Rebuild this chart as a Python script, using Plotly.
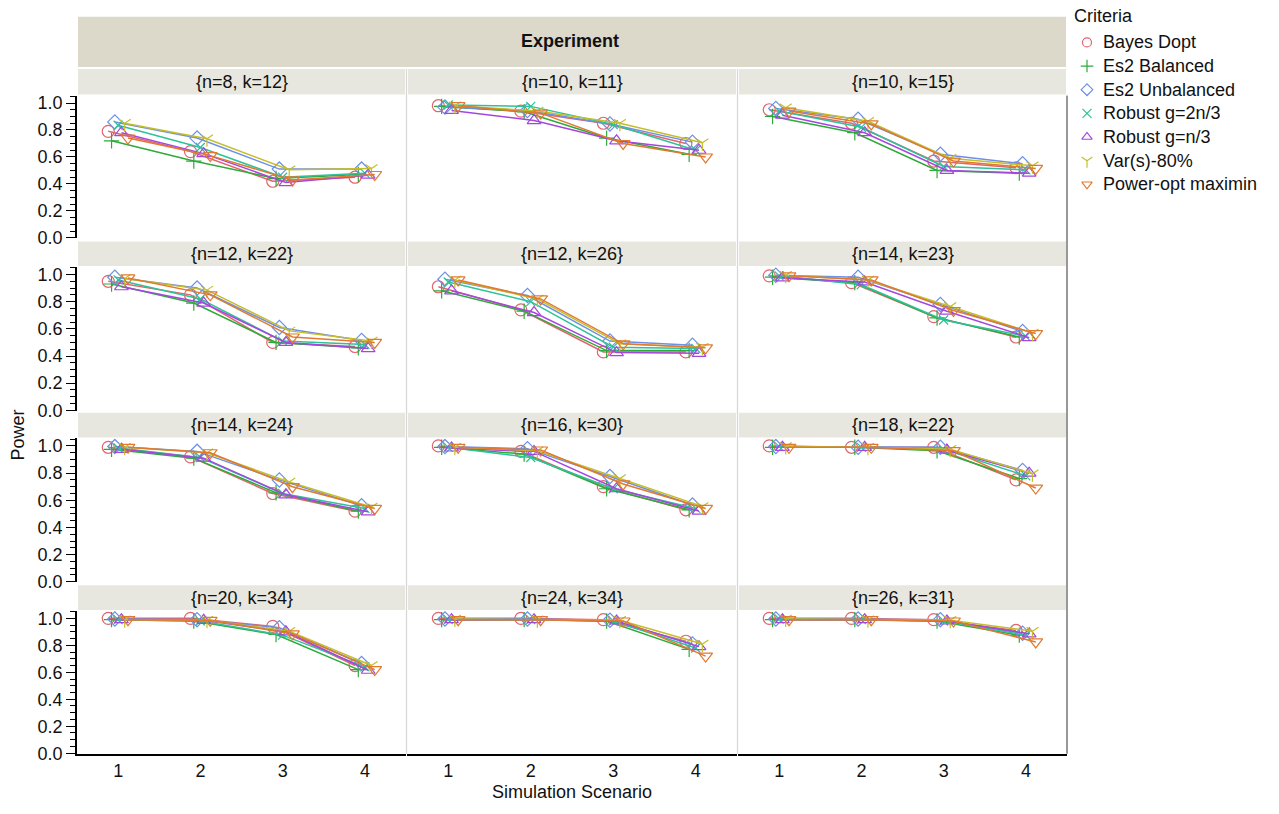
import plotly.graph_objects as go

W, H = 1279, 814

scenarios = [1, 2, 3, 4]
panel_labels = ["{n=8, k=12}", "{n=10, k=11}", "{n=10, k=15}",
                "{n=12, k=22}", "{n=12, k=26}", "{n=14, k=23}",
                "{n=14, k=24}", "{n=16, k=30}", "{n=18, k=22}",
                "{n=20, k=34}", "{n=24, k=34}", "{n=26, k=31}"]
criteria = ["Bayes Dopt", "Es2 Balanced", "Es2 Unbalanced", "Robust g=2n/3",
            "Robust g=n/3", "Var(s)-80%", "Power-opt maximin"]
y_ticks = [0.0, 0.2, 0.4, 0.6, 0.8, 1.0]

bayes_dopt = [
    [0.79, 0.64, 0.42, 0.45], [0.98, 0.94, 0.85, 0.70], [0.95, 0.85, 0.57, 0.52],
    [0.95, 0.85, 0.50, 0.47], [0.91, 0.74, 0.43, 0.43], [0.99, 0.94, 0.69, 0.54],
    [0.99, 0.92, 0.65, 0.52], [1.00, 0.96, 0.70, 0.53], [1.00, 0.99, 0.99, 0.75],
    [1.00, 1.00, 0.94, 0.65], [1.00, 1.00, 0.99, 0.83], [1.00, 1.00, 0.99, 0.91]]
es2_balanced = [
    [0.72, 0.57, 0.44, 0.47], [0.975, 0.935, 0.74, 0.62], [0.90, 0.78, 0.50, 0.48],
    [0.93, 0.79, 0.50, 0.46], [0.88, 0.73, 0.44, 0.44], [0.98, 0.94, 0.68, 0.54],
    [0.975, 0.91, 0.655, 0.52], [0.99, 0.94, 0.685, 0.53], [0.99, 0.99, 0.965, 0.76],
    [0.99, 0.98, 0.88, 0.62], [0.99, 0.99, 0.98, 0.77], [0.99, 0.99, 0.98, 0.875]]
es2_unbalanced = [
    [0.86, 0.74, 0.51, 0.51], [0.97, 0.945, 0.845, 0.71], [0.96, 0.88, 0.62, 0.55],
    [0.98, 0.90, 0.61, 0.515], [0.965, 0.845, 0.51, 0.48], [0.995, 0.98, 0.78, 0.58],
    [0.995, 0.96, 0.75, 0.56], [0.995, 0.98, 0.775, 0.565], [0.995, 0.99, 0.99, 0.82],
    [0.995, 0.99, 0.93, 0.665], [0.995, 0.995, 0.985, 0.81], [0.995, 0.995, 0.99, 0.89]]
robust_2n3 = [
    [0.835, 0.67, 0.45, 0.48], [0.985, 0.975, 0.84, 0.65], [0.94, 0.82, 0.53, 0.505],
    [0.96, 0.82, 0.51, 0.485], [0.945, 0.80, 0.465, 0.455], [0.99, 0.925, 0.665, 0.545],
    [0.985, 0.915, 0.65, 0.54], [0.99, 0.915, 0.685, 0.54], [0.995, 0.99, 0.975, 0.78],
    [0.99, 0.98, 0.875, 0.64], [0.99, 0.99, 0.98, 0.78], [0.995, 0.99, 0.98, 0.875]]
robust_n3 = [
    [0.78, 0.625, 0.41, 0.465], [0.945, 0.87, 0.72, 0.65], [0.91, 0.78, 0.50, 0.48],
    [0.91, 0.79, 0.50, 0.455], [0.88, 0.72, 0.425, 0.42], [0.975, 0.945, 0.73, 0.535],
    [0.975, 0.91, 0.64, 0.515], [0.985, 0.96, 0.685, 0.52], [0.99, 0.99, 0.97, 0.80],
    [0.99, 0.985, 0.90, 0.615], [0.99, 0.99, 0.98, 0.79], [0.99, 0.99, 0.98, 0.885]]
var_s80 = [
    [0.85, 0.735, 0.505, 0.515], [0.98, 0.94, 0.85, 0.705], [0.965, 0.865, 0.59, 0.535],
    [0.97, 0.885, 0.585, 0.51], [0.96, 0.82, 0.49, 0.465], [0.995, 0.96, 0.765, 0.57],
    [0.99, 0.95, 0.735, 0.55], [0.99, 0.965, 0.76, 0.555], [0.995, 0.99, 0.975, 0.795],
    [0.99, 0.985, 0.905, 0.65], [0.995, 0.99, 0.985, 0.81], [0.995, 0.99, 0.985, 0.905]]
power_opt_maximin = [
    [0.74, 0.61, 0.43, 0.47], [0.98, 0.925, 0.70, 0.60], [0.94, 0.845, 0.57, 0.515],
    [0.975, 0.85, 0.54, 0.50], [0.96, 0.82, 0.49, 0.46], [0.99, 0.96, 0.735, 0.565],
    [0.99, 0.95, 0.70, 0.54], [0.99, 0.97, 0.72, 0.54], [0.99, 0.99, 0.965, 0.69],
    [0.99, 0.985, 0.885, 0.62], [0.99, 0.99, 0.98, 0.72], [0.99, 0.99, 0.98, 0.825]]

series = [bayes_dopt, es2_balanced, es2_unbalanced, robust_2n3,
          robust_n3, var_s80, power_opt_maximin]

# styles
colors = ["#E2646E", "#2EAA3A", "#6E8FE6", "#2DC29A", "#A447DE", "#C4BE2A", "#E07A30"]
symbols = ["circle-open", "cross-thin-open", "diamond-open", "x-thin-open",
           "triangle-up-open", "y-down-open", "triangle-down-open"]
sizes = [12, 11, 11, 9, 12, 10, 12]
dodge = [-0.12, -0.08, -0.04, 0.0, 0.04, 0.08, 0.12]
FONT = "Liberation Sans, Arial, sans-serif"
TXT = "#111111"

col_px = [(77, 406), (407, 737), (738, 1067)]
row_plot_px = [(95, 240), (269, 415), (443, 589), (618, 763)]
row_strip_px = [(68, 94), (243, 268), (417, 442), (592, 617)]


def px(x):
    return x / W


def py(y):
    return 1 - y / H


fig = go.Figure()
shapes = []
annotations = []

for p in range(12):
    r, c = divmod(p, 3)
    i = p + 1
    xs = "" if i == 1 else str(i)
    x0, x1 = col_px[c]
    t, b = row_plot_px[r]
    for s, name in enumerate(criteria):
        vals = series[s][p]
        fig.add_trace(go.Scatter(
            x=[sc + dodge[s] for sc in scenarios], y=vals,
            mode="lines+markers", name=name, showlegend=False,
            line=dict(color=colors[s], width=1.5),
            marker=dict(symbol=symbols[s], size=sizes[s], color=colors[s],
                        line=dict(color=colors[s], width=1.2)),
            xaxis="x" + xs, yaxis="y" + xs, hoverinfo="skip"))
    xa = dict(domain=[px(x0), px(x1)], range=[0.5, 4.5], anchor="y" + xs,
              showgrid=False, zeroline=False, tickvals=scenarios,
              ticktext=[str(v) for v in scenarios],
              showticklabels=(r == 3), ticks="",
              tickfont=dict(family=FONT, size=18, color=TXT),
              showline=(r == 3), linecolor="black", linewidth=1.5)
    ya = dict(domain=[py(b), py(t)], range=[-0.004, 1.055], anchor="x" + xs,
              showgrid=False, zeroline=False, tickvals=y_ticks,
              ticktext=["%.1f" % v for v in y_ticks],
              showticklabels=(c == 0),
              ticks="outside" if c == 0 else "", ticklen=9, tickwidth=1,
              tickcolor="black",
              tickfont=dict(family=FONT, size=18, color=TXT),
              showline=(c == 0), linecolor="black", linewidth=1.5)
    if c == 0:
        ya["minor"] = dict(dtick=0.05, ticklen=5, ticks="outside",
                           tickcolor="black", tickwidth=1)
    fig.layout["xaxis" + xs] = xa
    fig.layout["yaxis" + xs] = ya

    # strip
    st, sb = row_strip_px[r]
    shapes.append(dict(type="rect", xref="paper", yref="paper",
                       x0=px(x0 + 1), x1=px(x1 - 1), y0=py(sb), y1=py(st),
                       fillcolor="#E8E7DF", line=dict(width=0), layer="above"))
    annotations.append(dict(text=panel_labels[p], xref="paper", yref="paper",
                            x=px((x0 + x1) / 2), y=py((st + sb) / 2),
                            showarrow=False, xanchor="center", yanchor="middle",
                            font=dict(family=FONT, size=18, color=TXT)))

# column separators and right border
for xsep in (406.5, 737.5):
    shapes.append(dict(type="line", xref="paper", yref="paper",
                       x0=px(xsep), x1=px(xsep), y0=py(763), y1=py(68),
                       line=dict(color="#D6D6D6", width=1.2), layer="below"))
shapes.append(dict(type="line", xref="paper", yref="paper",
                   x0=px(1067), x1=px(1067), y0=py(763), y1=py(95),
                   line=dict(color="#333", width=1), layer="below"))

# header
shapes.append(dict(type="rect", xref="paper", yref="paper",
                   x0=px(78), x1=px(1066), y0=py(66), y1=py(15),
                   fillcolor="#DCD9CA", line=dict(width=0), layer="below"))
annotations.append(dict(text="<b>Experiment</b>", xref="paper", yref="paper",
                        x=px(570), y=py(40), showarrow=False,
                        xanchor="center", yanchor="middle",
                        font=dict(family=FONT, size=18, color=TXT)))
annotations.append(dict(text="Power", xref="paper", yref="paper",
                        x=px(18), y=py(440), showarrow=False, textangle=-90,
                        xanchor="center", yanchor="middle",
                        font=dict(family=FONT, size=18, color=TXT)))
annotations.append(dict(text="Simulation Scenario", xref="paper", yref="paper",
                        x=px(572), y=py(802), showarrow=False,
                        xanchor="center", yanchor="middle",
                        font=dict(family=FONT, size=18, color=TXT)))

# custom legend (hidden helper axis in pixel units)
leg_rows = list(range(len(criteria)))
fig.add_trace(go.Scatter(
    x=[1087] * len(criteria), y=[41 + 24 * k for k in leg_rows],
    mode="markers", showlegend=False, hoverinfo="skip",
    marker=dict(symbol=symbols, size=9, color=colors,
                line=dict(color=colors, width=1.2)),
    xaxis="x13", yaxis="y13"))
fig.layout["xaxis13"] = dict(domain=[px(1070), 1], range=[1070, W],
                             visible=False, anchor="y13", fixedrange=True)
fig.layout["yaxis13"] = dict(domain=[py(200), 1], range=[200, 0],
                             visible=False, anchor="x13", fixedrange=True)
annotations.append(dict(text="Criteria", xref="paper", yref="paper",
                        x=px(1072), y=py(14), showarrow=False,
                        xanchor="left", yanchor="middle",
                        font=dict(family=FONT, size=18, color=TXT)))
for k, name in enumerate(criteria):
    annotations.append(dict(text=name, xref="paper", yref="paper",
                            x=px(1101), y=py(41 + 24 * k), showarrow=False,
                            xanchor="left", yanchor="middle",
                            font=dict(family=FONT, size=18, color=TXT)))

fig.update_layout(
    width=W, height=H, margin=dict(l=0, r=0, t=0, b=0),
    paper_bgcolor="white", plot_bgcolor="white",
    shapes=shapes, annotations=annotations, showlegend=False,
)

fig.write_html("out.html")
